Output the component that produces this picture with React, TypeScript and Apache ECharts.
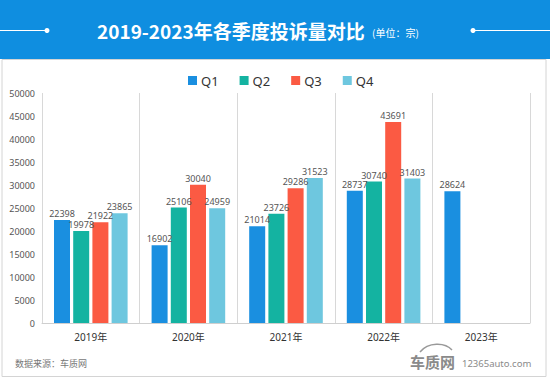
import React, { useEffect, useRef } from "react";
import * as echarts from "echarts";

const years = ["2019年", "2020年", "2021年", "2022年", "2023年"];
const q1 = [22398, 16902, 21014, 28737, 28624];
const q2: (number | string)[] = [19978, 25106, 23726, 30740, "-"];
const q3: (number | string)[] = [21922, 30040, 29286, 43691, "-"];
const q4: (number | string)[] = [23865, 24959, 31523, 31403, "-"];
const seriesNames = ["Q1", "Q2", "Q3", "Q4"];
const colors = ["#1a8fe0", "#14b3a1", "#fb5a43", "#6ec7df"];

const titleText = "2019-2023年各季度投诉量对比";
const unitText = "(单位：宗)";
const sourceText = "数据来源：车质网";

export default function App() {
  const ref = useRef<HTMLDivElement>(null);
  useEffect(() => {
    if (!ref.current) return;
    const chart = echarts.init(ref.current, null, { renderer: "svg" });
    const font = "'Noto Sans', 'Noto Sans CJK SC', sans-serif";
    const data = [q1, q2, q3, q4];
    chart.setOption({
      animation: false,
      backgroundColor: "#ffffff",
      textStyle: { fontFamily: font },
      graphic: [
        { type: "rect", shape: { x: 0, y: 0, width: 550, height: 59 }, style: { fill: "#0f8ee0" }, silent: true },
        { type: "rect", shape: { x: 2, y: 59.5, width: 544, height: 317 }, style: { fill: "#fff", stroke: "#d4d4d4", lineWidth: 1 }, silent: true },
        { type: "line", shape: { x1: 0, y1: 30.5, x2: 46, y2: 30.5 }, style: { stroke: "#fff", lineWidth: 1 } },
        { type: "circle", shape: { cx: 47, cy: 30.5, r: 2.5 }, style: { fill: "#fff" } },
        { type: "line", shape: { x1: 474, y1: 30.5, x2: 550, y2: 30.5 }, style: { stroke: "#fff", lineWidth: 1 } },
        { type: "circle", shape: { cx: 473, cy: 30.5, r: 2.5 }, style: { fill: "#fff" } },
        {
          type: "text", x: 97, y: 30,
          style: { text: titleText, fill: "#fff", font: `bold 19px 'Noto Sans CJK SC', sans-serif`, textVerticalAlign: "middle" },
        },
        {
          type: "text", x: 372, y: 32,
          style: { text: unitText, fill: "#fff", font: `10px 'Noto Sans CJK SC', sans-serif`, textVerticalAlign: "middle" },
        },
        {
          type: "text", x: 15, y: 363,
          style: { text: sourceText, fill: "#777", font: `9px 'Noto Sans CJK SC', sans-serif`, textVerticalAlign: "middle" },
        },
        {
          type: "bezierCurve",
          shape: { x1: 420, y1: 352, x2: 452, y2: 350, cpx1: 428, cpy1: 342, cpx2: 445, cpy2: 342 },
          style: { stroke: "#999", lineWidth: 1.5, fill: null },
        },
        {
          type: "text", x: 410, y: 361,
          style: { text: "车质网", fill: "#8a8a8a", font: `bold 15px 'Noto Sans CJK SC', sans-serif`, textVerticalAlign: "middle" },
        },
        {
          type: "text", x: 462, y: 363,
          style: { text: "12365auto.com", fill: "#8a8a8a", font: `9.5px 'Noto Sans', sans-serif`, textVerticalAlign: "middle" },
        },
      ],
      legend: {
        data: seriesNames,
        top: 69,
        left: 183,
        itemWidth: 9,
        itemHeight: 9,
        itemGap: 21,
        icon: "rect",
        textStyle: { fontSize: 13, color: "#333", padding: [0, 0, 0, -1] },
      },
      grid: { left: 42, right: 20, top: 93, bottom: 57 },
      xAxis: {
        type: "category",
        data: years,
        axisLine: { lineStyle: { color: "#cfcfcf" } },
        axisTick: { show: false },
        axisLabel: { fontSize: 10, color: "#333", margin: 9 },
        splitLine: { show: true, lineStyle: { color: "#d8d8d8" } },
      },
      yAxis: {
        type: "value",
        min: 0,
        max: 50000,
        interval: 5000,
        axisLine: { show: false },
        axisTick: { show: false },
        splitLine: { show: false },
        axisLabel: { fontSize: 9, color: "#555", margin: 7, formatter: (v: number) => String(v) },
      },
      series: seriesNames.map((name, i) => ({
        name,
        type: "bar",
        data: data[i],
        barWidth: 16,
        barGap: "20%",
        itemStyle: { color: colors[i] },
        label: { show: true, position: "top", distance: 2, fontSize: 9, color: "#555" },
      })),
    });
    return () => chart.dispose();
  }, []);
  return <div ref={ref} style={{ position: "fixed", left: 0, top: 0, width: 550, height: 380 }} />;
}
